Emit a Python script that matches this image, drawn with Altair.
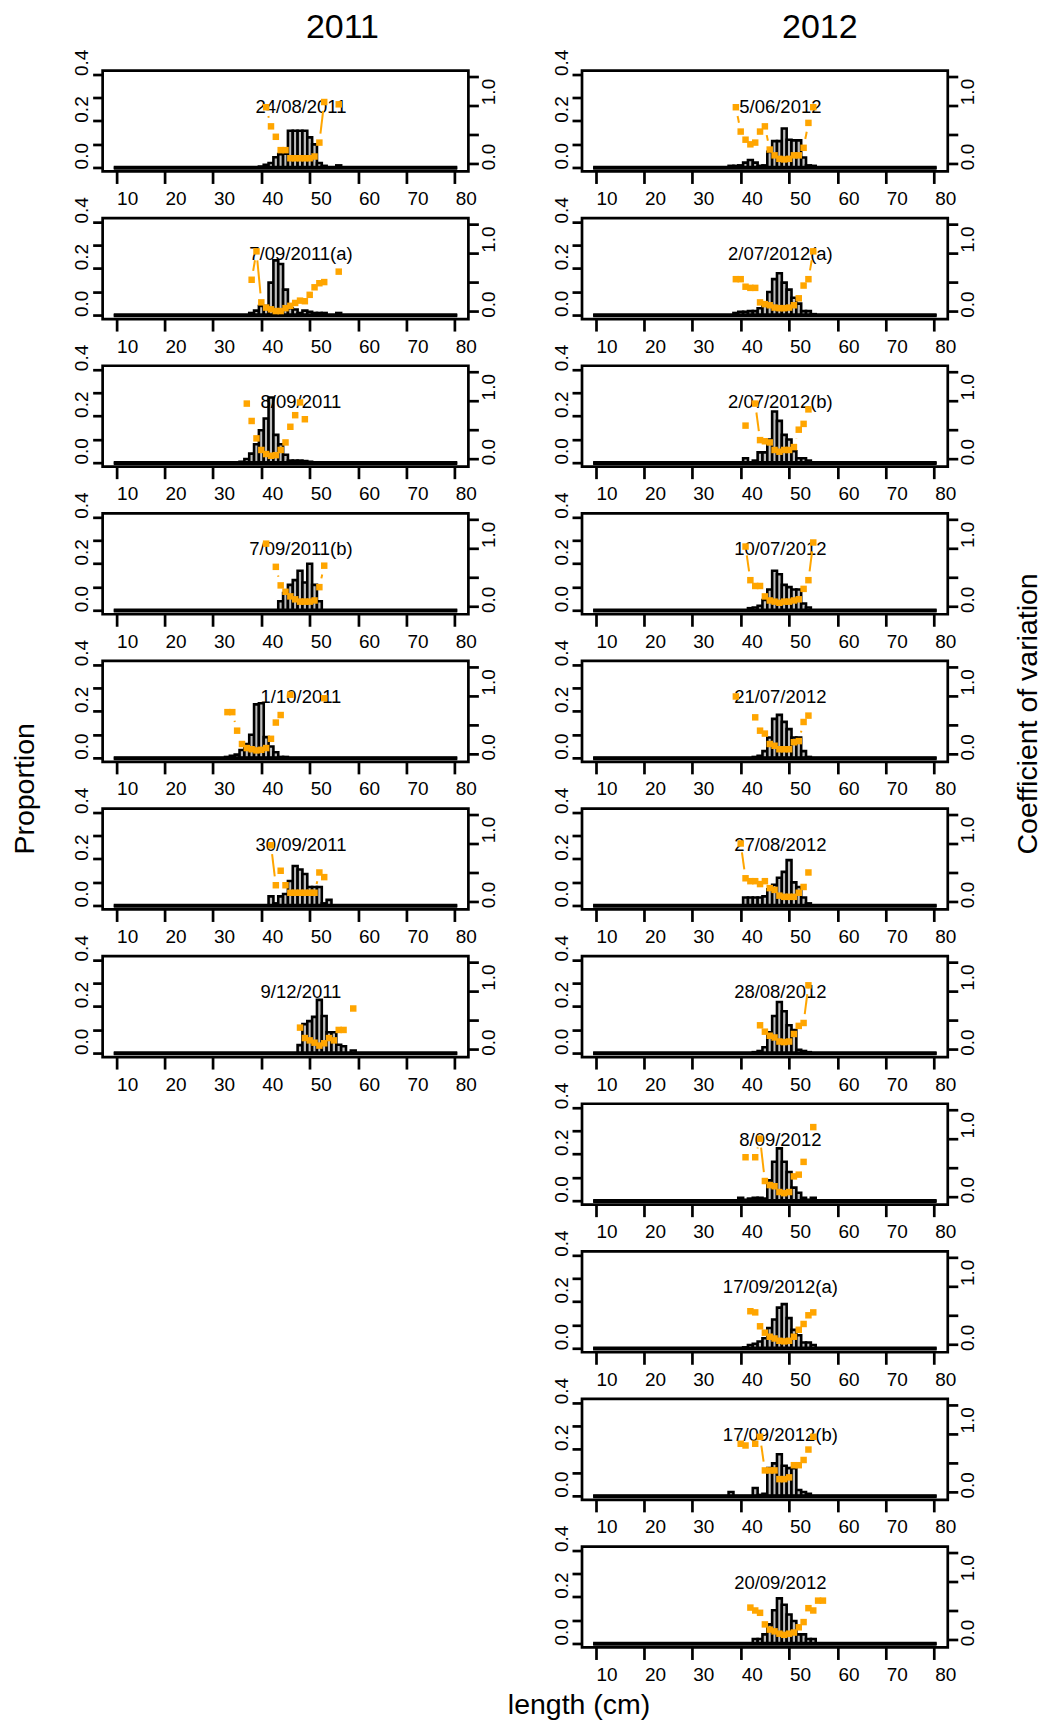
import math
import altair as alt
import pandas as pd

FONT = "Liberation Sans"
ORANGE = "#FFA500"
BAR_FILL = "#bebebe"

# length classes (cm) and axis settings
LENGTHS = list(range(10, 81))
X_TICKS = [10, 20, 30, 40, 50, 60, 70, 80]
P_TICKS = [0.0, 0.1, 0.2, 0.3, 0.4]
CV_TICKS = [0.0, 0.5, 1.0, 1.5]
X_DOMAIN = [7.2, 82.8]
P_DOMAIN = [-0.016, 0.416]
CV_DOMAIN = [-0.138, 1.603]

# ---- 2011 samples: proportion by length class, coefficient of variation ----
prop_240811 = {40: .005, 41: .012, 42: .02, 43: .045, 44: .058, 45: .06, 46: .158, 47: .158,
               48: .158, 49: .158, 50: .13, 51: .10, 52: .02, 53: .008, 56: .01}
cv_240811 = {41: .97, 42: .64, 43: .46, 44: .23, 45: .23, 46: .09, 47: .09, 48: .09, 49: .09,
             50: .09, 51: .12, 52: .36, 53: 1.06, 56: 1.02}

prop_070911a = {38: .01, 39: .02, 40: .04, 41: .04, 42: .14, 43: .235, 44: .22, 45: .11, 46: .03,
                47: .025, 48: .01, 49: .02, 50: .015, 51: .01, 52: .01, 53: .01, 56: .01}
cv_070911a = {38: .54, 39: 1.03, 40: .15, 41: .06, 42: .03, 43: .0, 44: .0, 45: .05, 46: .09,
              47: .14, 48: .18, 49: .17, 50: .28, 51: .41, 52: .48, 53: .5, 56: .68}

prop_080911 = {36: .005, 37: .017, 38: .04, 39: .08, 40: .14, 41: .19, 42: .28, 43: .12, 44: .08,
               45: .035, 46: .01, 47: .01, 48: .01, 49: .008, 50: .005}
cv_080911 = {37: .95, 38: .65, 39: .35, 40: .15, 41: .08, 42: .05, 43: .06, 44: .15, 45: .28,
             46: .55, 47: .75, 48: .97, 49: .68}

prop_070911b = {44: .04, 45: .075, 46: .11, 47: .13, 48: .17, 49: .12, 50: .2, 51: .11, 52: .04}
cv_070911b = {41: 1.08, 43: .68, 44: .36, 45: .25, 46: .17, 47: .12, 48: .08, 49: .08, 50: .08,
              51: .1, 52: .33, 53: .7}

prop_011011 = {33: .005, 34: .01, 35: .015, 36: .035, 37: .06, 38: .1, 39: .23, 40: .235, 41: .09,
               42: .05, 43: .025, 44: .005, 45: .005}
cv_011011 = {33: .72, 34: .72, 35: .4, 36: .17, 37: .1, 38: .08, 39: .06, 40: .07, 41: .1, 42: .26,
             43: .54, 44: .67, 46: 1.02, 53: .96}

prop_300911 = {42: .04, 43: .01, 44: .04, 45: .05, 46: .106, 47: .17, 48: .155, 49: .136, 50: .08,
               51: .08, 52: .08, 53: .01, 54: .025}
cv_300911 = {42: .97, 43: .28, 44: .53, 45: .28, 46: .15, 47: .15, 48: .15, 49: .15, 50: .15,
             51: .15, 52: .5, 53: .42}

prop_091211 = {48: .035, 49: .125, 50: .138, 51: .156, 52: .229, 53: .16, 54: .09, 55: .09, 56: .037,
               57: .03, 59: .012}
cv_091211 = {48: .37, 49: .19, 50: .15, 51: .11, 52: .06, 53: .1, 54: .19, 55: .15, 56: .33, 57: .33,
             59: .7}

# ---- 2012 samples ----
prop_050612 = {38: .008, 39: .008, 40: .01, 41: .022, 42: .033, 43: .022, 44: .008, 45: .01, 46: .068,
               47: .114, 48: .114, 49: .168, 50: .12, 51: .117, 52: .117, 53: .044, 54: .01, 55: .008}
cv_050612 = {39: .97, 40: .55, 41: .41, 42: .33, 43: .36, 44: .55, 45: .64, 46: .24, 47: .14, 48: .08,
             49: .07, 50: .08, 51: .14, 52: .14, 53: .27, 54: .7, 55: .97}

prop_020712a = {39: .01, 40: .015, 41: .015, 42: .018, 43: .018, 44: .03, 45: .05, 46: .1, 47: .155,
                48: .18, 49: .14, 50: .11, 51: .075, 52: .05, 53: .018, 54: .018, 55: .005}
cv_020712a = {39: .55, 40: .55, 41: .42, 42: .4, 43: .4, 44: .15, 45: .12, 46: .1, 47: .06, 48: .05,
              49: .05, 50: .06, 51: .1, 52: .22, 53: .44, 54: .55, 55: 1.03}

prop_020712b = {41: .02, 43: .01, 44: .045, 45: .045, 46: .1, 47: .22, 48: .18, 49: .12, 50: .1,
                51: .05, 52: .02, 53: .02, 54: .01}
cv_020712b = {41: .57, 43: .95, 44: .32, 45: .3, 46: .28, 47: .15, 48: .12, 49: .15, 50: .15, 51: .2,
              52: .5, 53: .6, 54: .85}

prop_100712 = {42: .01, 43: .013, 44: .02, 45: .045, 46: .09, 47: .17, 48: .155, 49: .11, 50: .1,
               51: .09, 52: .09, 53: .03, 54: .013}
cv_100712 = {41: 1.03, 42: .45, 43: .35, 44: .35, 45: .17, 46: .1, 47: .08, 48: .06, 49: .08, 50: .08,
             51: .1, 52: .12, 53: .3, 54: .45, 55: 1.1}

prop_210712 = {43: .005, 44: .01, 45: .03, 46: .088, 47: .168, 48: .185, 49: .155, 50: .124, 51: .088,
               52: .088, 53: .03, 54: .005}
cv_210712 = {39: .99, 43: .63, 44: .4, 45: .35, 46: .17, 47: .14, 48: .08, 49: .08, 50: .08, 51: .2,
             52: .22, 53: .55, 54: .66}

prop_270812 = {41: .035, 42: .035, 43: .035, 44: .035, 45: .04, 46: .07, 47: .09, 48: .12, 49: .145,
               50: .195, 51: .1, 52: .08, 53: .035, 54: .01}
cv_270812 = {40: 1.0, 41: .4, 42: .35, 43: .35, 44: .3, 45: .35, 46: .23, 47: .2, 48: .1, 49: .08,
             50: .08, 51: .08, 52: .15, 53: .25, 54: .5}

prop_280812 = {43: .005, 44: .01, 45: .026, 46: .09, 47: .16, 48: .22, 49: .18, 50: .12, 51: .1,
               52: .015, 53: .01, 54: .005}
cv_280812 = {44: .41, 45: .3, 46: .23, 47: .2, 48: .13, 49: .12, 50: .13, 51: .26, 52: .4, 53: .45,
             54: 1.1}

prop_080912 = {40: .013, 41: .005, 42: .01, 43: .013, 44: .013, 45: .01, 46: .088, 47: .168, 48: .225,
               49: .168, 50: .124, 51: .057, 52: .035, 53: .013, 54: .005, 55: .013}
cv_080912 = {41: .68, 43: .68, 44: 1.0, 45: .27, 46: .2, 47: .18, 48: .08, 49: .06, 50: .08, 51: .35,
             52: .38, 53: .6, 55: 1.2}

prop_170912a = {41: .005, 42: .015, 43: .02, 44: .03, 45: .044, 46: .088, 47: .124, 48: .175, 49: .19,
                50: .13, 51: .08, 52: .057, 53: .026, 54: .026, 55: .015}
cv_170912a = {42: .57, 43: .55, 44: .31, 45: .2, 46: .13, 47: .1, 48: .06, 49: .05, 50: .06, 51: .13,
              52: .25, 53: .35, 54: .5, 55: .55}

prop_170912b = {38: .018, 43: .035, 44: .005, 45: .01, 46: .12, 47: .14, 48: .179, 49: .13, 50: .12,
                51: .12, 52: .026, 53: .018, 54: .01}
cv_170912b = {40: .83, 41: .8, 43: .83, 44: .95, 45: .37, 46: .37, 47: .37, 48: .22, 49: .22, 50: .25,
              51: .46, 52: .46, 53: .55, 54: .73, 55: .95}

prop_200912 = {43: .02, 44: .02, 45: .04, 46: .083, 47: .143, 48: .194, 49: .167, 50: .125, 51: .097,
               52: .04, 53: .04, 54: .02, 55: .02}
cv_200912 = {42: .55, 43: .5, 44: .46, 45: .26, 46: .17, 47: .14, 48: .1, 49: .08, 50: .1, 51: .12,
             52: .21, 53: .3, 54: .54, 55: .5, 56: .67, 57: .67}

samples_2011 = [
    ("24/08/2011", prop_240811, cv_240811),
    ("7/09/2011(a)", prop_070911a, cv_070911a),
    ("8/09/2011", prop_080911, cv_080911),
    ("7/09/2011(b)", prop_070911b, cv_070911b),
    ("1/10/2011", prop_011011, cv_011011),
    ("30/09/2011", prop_300911, cv_300911),
    ("9/12/2011", prop_091211, cv_091211),
]
samples_2012 = [
    ("5/06/2012", prop_050612, cv_050612),
    ("2/07/2012(a)", prop_020712a, cv_020712a),
    ("2/07/2012(b)", prop_020712b, cv_020712b),
    ("10/07/2012", prop_100712, cv_100712),
    ("21/07/2012", prop_210712, cv_210712),
    ("27/08/2012", prop_270812, cv_270812),
    ("28/08/2012", prop_280812, cv_280812),
    ("8/09/2012", prop_080912, cv_080912),
    ("17/09/2012(a)", prop_170912a, cv_170912a),
    ("17/09/2012(b)", prop_170912b, cv_170912b),
    ("20/09/2012", prop_200912, cv_200912),
]

W, H = 366, 101
LABEL_X = 48.2
GAP_PX = 9.0  # blank left around each CV point along the connecting segments (plot type "b")

x_axis = alt.Axis(values=X_TICKS, format="d", title=None, tickSize=12, labelOffset=11,
                  labelPadding=6, labelFlush=False, labelOverlap=False)
left_axis = alt.Axis(orient="left", values=P_TICKS, title=None, tickSize=10, labelAngle=270,
                     labelAlign="center", labelBaseline="bottom", labelOffset=-12, labelPadding=1,
                     labelFlush=False, labelOverlap=False,
                     labelExpr="indexof(['0.0', '0.2', '0.4'], format(datum.value, '.1f')) >= 0"
                               " ? format(datum.value, '.1f') : ''")
right_axis = alt.Axis(orient="right", values=CV_TICKS, title=None, tickSize=10, labelAngle=270,
                      labelAlign="center", labelBaseline="top", labelPadding=1,
                      labelOffset={"condition": {"test": "datum.value < 0.25", "value": -7},
                                   "value": -14},
                      labelFlush=False, labelOverlap=False,
                      labelExpr="indexof(['0.0', '1.0'], format(datum.value, '.1f')) >= 0"
                                " ? format(datum.value, '.1f') : ''")

xs = alt.Scale(domain=X_DOMAIN, nice=False, zero=False)
ps = alt.Scale(domain=P_DOMAIN, nice=False, zero=False)
cs = alt.Scale(domain=CV_DOMAIN, nice=False, zero=False)

PX_PER_CM = W / (X_DOMAIN[1] - X_DOMAIN[0])
PX_PER_CV = H / (CV_DOMAIN[1] - CV_DOMAIN[0])


def cv_points(cv):
    return pd.DataFrame({"len": sorted(cv), "cv": [cv[k] for k in sorted(cv)]})


def cv_segments(cv):
    """Segments between neighbouring length classes, cut back near each point."""
    rows = []
    for k in sorted(cv):
        if k + 1 not in cv:
            continue
        a, b = cv[k], cv[k + 1]
        length = math.hypot(PX_PER_CM, (b - a) * PX_PER_CV)
        f = GAP_PX / length
        if f >= 0.5:
            continue
        rows.append({"x1": k + f, "y1": a + f * (b - a),
                     "x2": k + 1 - f, "y2": b - f * (b - a)})
    return pd.DataFrame(rows, columns=["x1", "y1", "x2", "y2"])


def title_text(text, x, y, size, angle=0):
    return alt.Chart(pd.DataFrame({"t": [text]})).mark_text(
        font=FONT, fontSize=size, angle=angle, align="center", baseline="middle", color="black"
    ).encode(x=alt.value(x), y=alt.value(y), text="t:N")


def panel(label, prop, cv, extras=()):
    bars = pd.DataFrame({
        "lo": [l - 0.5 for l in LENGTHS],
        "hi": [l + 0.5 for l in LENGTHS],
        "p": [prop.get(l, 0.0) for l in LENGTHS],
        "zero": 0.0,
    })
    base = pd.DataFrame({"lo": [LENGTHS[0] - 0.5], "hi": [LENGTHS[-1] + 0.5], "zero": [0.0]})

    bar = alt.Chart(bars).mark_rect(fill=BAR_FILL, stroke="black", strokeWidth=2.6).encode(
        x=alt.X("lo:Q", scale=xs, axis=x_axis),
        x2="hi",
        y=alt.Y("p:Q", scale=ps, axis=left_axis),
        y2="zero",
    )
    rule = alt.Chart(base).mark_rule(color="black", strokeWidth=4).encode(
        x=alt.X("lo:Q", scale=xs, axis=x_axis),
        x2="hi",
        y=alt.Y("zero:Q", scale=ps, axis=left_axis),
    )
    txt = alt.Chart(pd.DataFrame({"t": [label]})).mark_text(
        font=FONT, fontSize=18.5, align="center", baseline="middle", color="black"
    ).encode(x=alt.datum(LABEL_X), y=alt.value(36), text="t:N")

    segs = alt.Chart(cv_segments(cv)).mark_rule(color=ORANGE, strokeWidth=2).encode(
        x=alt.X("x1:Q", scale=xs, axis=x_axis),
        x2="x2:Q",
        y=alt.Y("y1:Q", scale=cs, axis=right_axis),
        y2="y2:Q",
    )
    pts = alt.Chart(cv_points(cv)).mark_square(color=ORANGE, size=42, opacity=1).encode(
        x=alt.X("len:Q", scale=xs, axis=x_axis),
        y=alt.Y("cv:Q", scale=cs, axis=right_axis),
    )
    left = alt.layer(bar, rule, txt, *extras)
    right = alt.layer(segs, pts)
    return alt.layer(left, right).resolve_scale(y="independent").properties(width=W, height=H)


def blank():
    return alt.Chart(pd.DataFrame({"v": [0]})).mark_point(opacity=0).encode(
        x=alt.X("v:Q", axis=None), y=alt.Y("v:Q", axis=None)
    ).properties(width=W, height=H, view=alt.ViewBackground(strokeOpacity=0))


left_cells = []
for i, (lab, p, c) in enumerate(samples_2011):
    extras = []
    if i == 0:
        extras.append(title_text("2011", 240, -43, 34))
    if i == 4:
        extras.append(title_text("Proportion", -78, 128, 28.5, angle=270))
    left_cells.append(panel(lab, p, c, extras))

right_cells = []
for i, (lab, p, c) in enumerate(samples_2012):
    extras = []
    if i == 0:
        extras.append(title_text("2012", 238, -43, 34))
    if i == 4:
        extras.append(title_text("Coefficient of variation", 446, 53, 28.5, angle=270))
    if i == len(samples_2012) - 1:
        extras.append(title_text("length (cm)", -3, 159, 28.5))
    right_cells.append(panel(lab, p, c, extras))

cells = []
for r in range(len(samples_2012)):
    cells.append(left_cells[r] if r < len(left_cells) else blank())
    cells.append(right_cells[r])

chart = alt.concat(
    *cells, columns=2, spacing={"row": 46.7, "column": 113.7}, bounds="flush"
).properties(
    padding={"left": 8.7, "top": 8, "right": 0, "bottom": 0},
    background="white",
).configure_view(
    stroke="black", strokeWidth=2.7
).configure_axis(
    labelFont=FONT, labelFontSize=19, labelColor="black", tickColor="black", tickWidth=2.7,
    domain=False, grid=False, labelOverlap=False,
)

chart.save("out.html", embed_options={"renderer": "svg", "actions": False})
